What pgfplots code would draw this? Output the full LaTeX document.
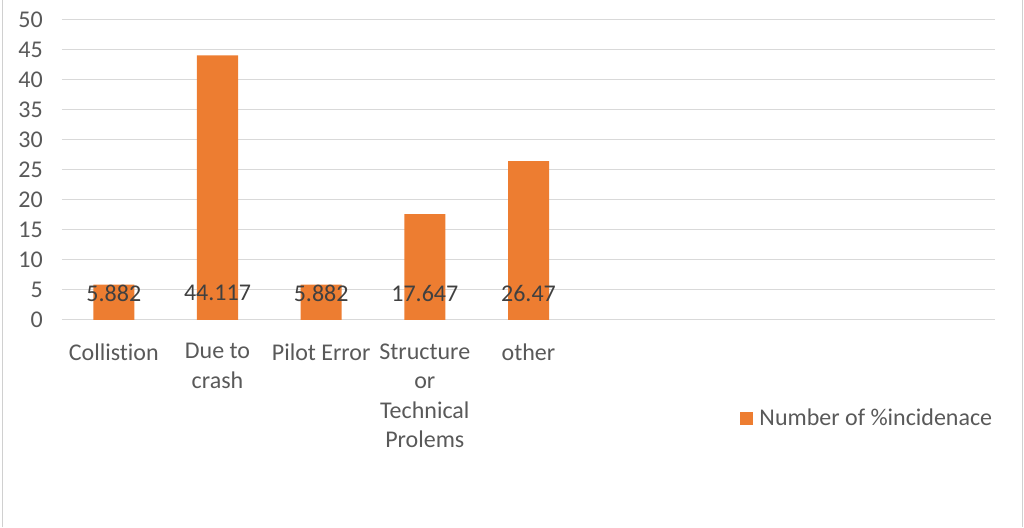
\documentclass[border=0pt]{standalone}
\usepackage{pgfplots}
\pgfplotsset{compat=1.18}
\usepackage{fontspec}
\setmainfont{Carlito}[Ligatures=NoCommon]
\definecolor{barorange}{HTML}{ED7D31}
\definecolor{gridgray}{HTML}{D9D9D9}
\definecolor{ticktext}{HTML}{595959}
\definecolor{valtext}{HTML}{404040}
\definecolor{framegray}{HTML}{D0D0D0}
\begin{document}
\begin{tikzpicture}[x=1pt,y=1pt]
\path[use as bounding box] (0,0) rectangle (1024,527);
\draw[framegray, line width=1pt] (2,0) -- (2,527);
\draw[framegray, line width=1pt] (1022,0) -- (1022,527);
\begin{axis}[
  at={(62pt,207pt)}, anchor=south west,
  scale only axis, width=933pt, height=300pt,
  xmin=-0.5, xmax=8.5, ymin=0, ymax=50,
  ytick={0,5,...,50},
  xtick={0,1,2,3,4},
  xticklabels={{Collistion},{Due to\\crash},{Pilot Error},{Structure\\or\\Technical\\Prolems},{other}},
  ymajorgrids, grid style={gridgray, line width=1pt},
  axis line style={draw=none}, major tick length=0pt,
  ticklabel style={font=\fontsize{24}{29.5}\selectfont, text=ticktext},
  yticklabel style={inner sep=0pt, xshift=-19pt},
  xticklabel style={align=center, yshift=-20pt},
  /pgf/number format/assume math mode=true,
  ybar, bar width=41pt,
  visualization depends on=y \as \barval,
  nodes near coords,
  nodes near coords style={font=\fontsize{24}{28}\selectfont, text=valtext, anchor=center,
    shift={(axis direction cs:0,{4.5-\barval})}},
  point meta=explicit symbolic,
  legend style={at={(rel axis cs:0.727,-0.327)}, anchor=west, draw=none, fill=none,
    font=\fontsize{24}{28}\selectfont, text=ticktext, inner sep=0pt,
    /tikz/every odd column/.append style={column sep=4pt},
    /tikz/every even column/.append style={column sep=0pt}},
  legend image code/.code={\fill[barorange] (0pt,-6.5pt) rectangle (13pt,6.5pt);},
]
\addplot[fill=barorange, draw=none] table[meta=label] {
x y label
0 5.882 5.882
1 44.117 44.117
2 5.882 5.882
3 17.647 17.647
4 26.47 26.47
};
\addlegendentry{Number of \%incidenace}
\end{axis}
\end{tikzpicture}
\end{document}
